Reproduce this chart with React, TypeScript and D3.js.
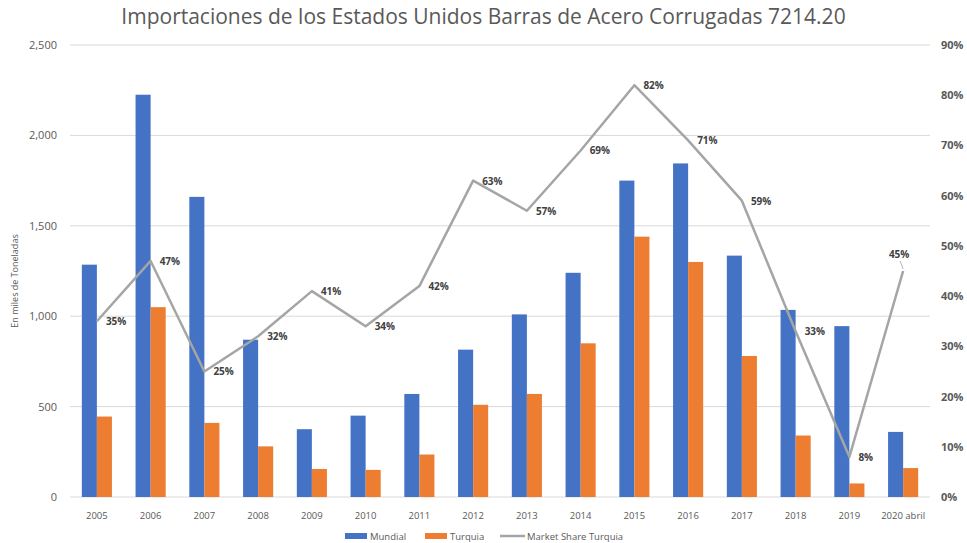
import React from "react";
import * as d3 from "d3";

const categories = ["2005", "2006", "2007", "2008", "2009", "2010", "2011", "2012", "2013", "2014", "2015", "2016", "2017", "2018", "2019", "2020 abril"];
const mundial = [1285, 2225, 1660, 870, 375, 450, 570, 815, 1010, 1240, 1750, 1845, 1335, 1035, 945, 360];
const turquia = [445, 1050, 410, 280, 155, 150, 235, 510, 570, 850, 1440, 1300, 780, 340, 75, 160];
const share = [35, 47, 25, 32, 41, 34, 42, 63, 57, 69, 82, 71, 59, 33, 8, 45];
const leftTicks = [0, 500, 1000, 1500, 2000, 2500];
const rightTicks = [0, 10, 20, 30, 40, 50, 60, 70, 80, 90];

const W = 967;
const H = 543;
const FONT = "'Open Sans', 'Liberation Sans', sans-serif";

const App = () => {
  const x = d3.scaleBand<string>().domain(categories).range([70, 930]).paddingInner(0.44).paddingOuter(0.22);
  const yL = d3.scaleLinear().domain([0, 2500]).range([497, 45]);
  const yR = d3.scaleLinear().domain([0, 90]).range([497, 45]);
  const bw = x.bandwidth() / 2;
  const cx = (c: string) => (x(c) as number) + bw;

  const line = d3
    .line<number>()
    .x((d, i) => cx(categories[i]))
    .y((d) => yR(d));

  const fmt = d3.format(",");

  return (
    <svg width={W} height={H} style={{ position: "absolute", left: 0, top: 0, background: "#fff" }} fontFamily={FONT}>
      <text x={W / 2} y={24} textAnchor="middle" fontSize={21} fill="#595959">
        Importaciones de los Estados Unidos Barras de Acero Corrugadas 7214.20
      </text>

      {leftTicks.map((t) => (
        <g key={t}>
          <line x1={70} x2={930} y1={yL(t)} y2={yL(t)} stroke="#d9d9d9" strokeWidth={1} />
          <text x={57} y={yL(t) + 4} textAnchor="end" fontSize={11} fill="#595959">
            {fmt(t)}
          </text>
        </g>
      ))}

      {rightTicks.map((t) => (
        <text key={t} x={941} y={yR(t) + 4} textAnchor="start" fontSize={11} fontWeight="bold" fill="#595959">
          {t}%
        </text>
      ))}

      <text transform={`translate(18,${281}) rotate(-90)`} textAnchor="middle" fontSize={9} fill="#595959">
        En miles de Toneladas
      </text>

      {categories.map((c, i) => (
        <g key={c}>
          <rect x={x(c)} y={yL(mundial[i])} width={bw} height={yL(0) - yL(mundial[i])} fill="#4472C4" />
          <rect x={cx(c)} y={yL(turquia[i])} width={bw} height={yL(0) - yL(turquia[i])} fill="#ED7D31" />
          <text x={cx(c)} y={519} textAnchor="middle" fontSize={9.5} fill="#595959">
            {c}
          </text>
        </g>
      ))}

      <path d={line(share) as string} fill="none" stroke="#A5A5A5" strokeWidth={2.5} strokeLinejoin="round" />

      {share.map((s, i) => {
        const px = cx(categories[i]);
        const py = yR(s);
        const last = i === share.length - 1;
        return last ? (
          <g key={i}>
            <line x1={px} y1={py - 2} x2={px - 3} y2={py - 10} stroke="#A5A5A5" strokeWidth={0.8} />
            <text x={px - 4} y={py - 13} textAnchor="middle" fontSize={10} fontWeight="bold" fill="#404040">
              {s}%
            </text>
          </g>
        ) : (
          <text key={i} x={px + 9} y={py + 4} textAnchor="start" fontSize={10} fontWeight="bold" fill="#404040">
            {s}%
          </text>
        );
      })}

      <g fontSize={9.5} fill="#595959">
        <rect x={345} y={533} width={22} height={6} fill="#4472C4" />
        <text x={370} y={540}>Mundial</text>
        <rect x={425} y={533} width={22} height={6} fill="#ED7D31" />
        <text x={450} y={540}>Turquia</text>
        <line x1={500} x2={525} y1={536} y2={536} stroke="#A5A5A5" strokeWidth={2.5} />
        <text x={527} y={540}>Market Share Turquia</text>
      </g>
    </svg>
  );
};

export default App;
